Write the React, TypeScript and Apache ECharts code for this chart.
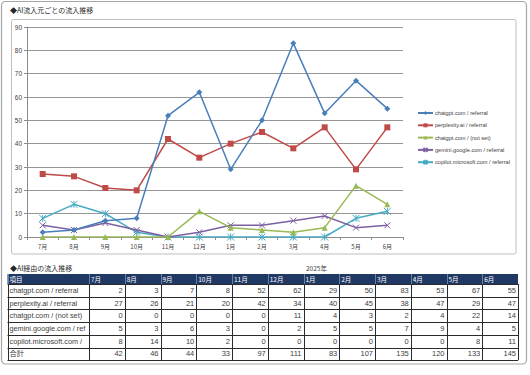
import React, { useEffect, useRef } from "react";
import * as echarts from "echarts";

const months = ["7月", "8月", "9月", "10月", "11月", "12月", "1月", "2月", "3月", "4月", "5月", "6月"];
const seriesNames = [
  "chatgpt.com / referral",
  "perplexity.ai / referral",
  "chatgpt.com / (not set)",
  "gemini.google.com / referral",
  "copilot.microsoft.com / referral",
];
const chatgptReferral = [2, 3, 7, 8, 52, 62, 29, 50, 83, 53, 67, 55];
const perplexityReferral = [27, 26, 21, 20, 42, 34, 40, 45, 38, 47, 29, 47];
const chatgptNotSet = [0, 0, 0, 0, 0, 11, 4, 3, 2, 4, 22, 14];
const geminiReferral = [5, 3, 6, 3, 0, 2, 5, 5, 7, 9, 4, 5];
const copilotReferral = [8, 14, 10, 2, 0, 0, 0, 0, 0, 0, 8, 11];
const totals = [42, 46, 44, 33, 97, 111, 83, 107, 135, 120, 133, 145];
const totalLabel = "合計";
const itemHeader = "項目";
const chartTitle = "◆AI流入元ごとの流入推移";
const tableTitle = "◆AI経由の流入推移";
const yearLabel = "2025年";

const seriesValues = [chatgptReferral, perplexityReferral, chatgptNotSet, geminiReferral, copilotReferral];
const colors = ["#4A7EBB", "#BE4B48", "#98B954", "#7D60A0", "#46AAC5"];
const symbols = [
  "diamond",
  "rect",
  "triangle",
  "path://M0,0L10,10M10,0L0,10",
  "path://M0,0L10,10M10,0L0,10M5,0L5,10",
];
const symbolSizes = [6, 6, 6, 6, 7];

const CJK = "'Noto Sans CJK JP', sans-serif";
const LAT = "'Liberation Sans', 'Noto Sans CJK JP', sans-serif";

function buildTable(): any[] {
  const els: any[] = [];
  const left = 7.5;
  const firstW = 81.5;
  const colW = 35.75;
  const headTop = 274;
  const headH = 10;
  const rowH = 12.7;
  const right = left + firstW + colW * months.length;
  const rows = [...seriesValues, totals];
  const rowLabels = [...seriesNames, totalLabel];
  const bottom = headTop + headH + rowH * rows.length;
  const lineColor = "#2b2b2b";

  els.push({
    type: "rect",
    shape: { x: left, y: headTop, width: right - left, height: headH },
    style: { fill: "#1F3864" },
  });
  els.push({
    type: "text",
    x: left + 2,
    y: headTop + headH / 2,
    style: { text: itemHeader, fill: "#ffffff", font: `6.5px ${CJK}`, verticalAlign: "middle" },
  });
  months.forEach((m, i) => {
    const cx = left + firstW + colW * i;
    els.push({
      type: "text",
      x: cx + 2,
      y: headTop + headH / 2,
      style: { text: m, fill: "#ffffff", font: `6.5px ${CJK}`, verticalAlign: "middle" },
    });
  });
  rows.forEach((vals, r) => {
    const y0 = headTop + headH + rowH * r;
    els.push({
      type: "text",
      x: left + 2,
      y: y0 + rowH / 2,
      style: {
        text: rowLabels[r],
        fill: "#404040",
        font: `7.3px ${LAT}`,
        verticalAlign: "middle",
        width: firstW - 3,
        overflow: "truncate",
        ellipsis: "",
      },
    });
    vals.forEach((v, i) => {
      const cx = left + firstW + colW * (i + 1);
      els.push({
        type: "text",
        x: cx - 2,
        y: y0 + rowH / 2,
        style: { text: String(v), fill: "#404040", font: `7.5px ${LAT}`, align: "right", verticalAlign: "middle" },
      });
    });
  });
  for (let r = 0; r <= rows.length; r++) {
    const y = Math.round(headTop + headH + rowH * r) + 0.5;
    els.push({
      type: "line",
      shape: { x1: left, y1: y, x2: right, y2: y },
      style: { stroke: lineColor, lineWidth: 1 },
    });
  }
  const xs = [left, left + firstW];
  for (let i = 1; i <= months.length; i++) xs.push(left + firstW + colW * i);
  xs.forEach((x) => {
    const xx = Math.round(x) + 0.5;
    els.push({
      type: "line",
      shape: { x1: xx, y1: headTop + headH, x2: xx, y2: bottom },
      style: { stroke: lineColor, lineWidth: 1 },
    });
    els.push({
      type: "line",
      shape: { x1: xx, y1: headTop, x2: xx, y2: headTop + headH },
      style: { stroke: "#ffffff", lineWidth: 0.6, opacity: 0.6 },
    });
  });
  return els;
}

export default function App() {
  const ref = useRef<HTMLDivElement>(null);
  useEffect(() => {
    if (!ref.current) return;
    const chart = echarts.init(ref.current, undefined, { renderer: "svg" });
    const option: any = {
      animation: false,
      backgroundColor: "#ffffff",
      textStyle: { fontFamily: CJK },
      grid: { left: 27, right: 127, top: 27, bottom: 138, containLabel: false },
      xAxis: {
        type: "category",
        data: months,
        boundaryGap: true,
        axisLine: { show: true, lineStyle: { color: "#8c8c8c", width: 1 } },
        axisTick: { show: true, interval: 0, length: 3, lineStyle: { color: "#8c8c8c" } },
        axisLabel: { color: "#404040", fontSize: 6, fontFamily: CJK, margin: 6, interval: 0 },
        splitLine: { show: false },
      },
      yAxis: {
        type: "value",
        min: 0,
        max: 90,
        interval: 10,
        axisLine: { show: true, lineStyle: { color: "#8c8c8c", width: 1 } },
        axisTick: { show: true, length: 3, lineStyle: { color: "#8c8c8c" } },
        axisLabel: { color: "#404040", fontSize: 6.5, fontFamily: LAT, margin: 5 },
        splitLine: { show: true, lineStyle: { color: "#969696", width: 1 } },
      },
      legend: {
        orient: "vertical",
        left: 412,
        top: 105,
        itemWidth: 15,
        itemHeight: 5,
        itemGap: 6.3,
        textStyle: { fontSize: 5.6, color: "#404040", fontFamily: LAT, lineHeight: 6, padding: [0, 0, 0, -3] },
        data: seriesNames,
      },
      series: seriesNames.map((name, i) => ({
        name,
        type: "line",
        data: seriesValues[i],
        symbol: symbols[i],
        symbolSize: symbolSizes[i],
        showAllSymbol: true,
        lineStyle: { color: colors[i], width: 1.5 },
        itemStyle: {
          color: colors[i],
          borderColor: colors[i],
          borderWidth: i >= 3 ? 1 : 0,
        },
        z: 10 - i,
      })),
      graphic: [
        {
          type: "rect",
          shape: { x: 1.5, y: 1.5, width: 525, height: 362.5, r: 4 },
          style: { fill: "none", stroke: "#a6a6a6", lineWidth: 1.2 },
          z: -10,
        },
        {
          type: "rect",
          shape: { x: 11.5, y: 19.5, width: 504.5, height: 234.5, r: 2 },
          style: { fill: "none", stroke: "#bfbfbf", lineWidth: 1 },
          z: -10,
        },
        {
          type: "text",
          x: 10,
          y: 10,
          style: { text: chartTitle, fill: "#262626", font: `7px ${CJK}`, verticalAlign: "middle" },
        },
        {
          type: "text",
          x: 10,
          y: 268,
          style: { text: tableTitle, fill: "#262626", font: `7px ${CJK}`, verticalAlign: "middle" },
        },
        {
          type: "text",
          x: 306,
          y: 268,
          style: { text: yearLabel, fill: "#404040", font: `6.5px ${CJK}`, verticalAlign: "middle" },
        },
        ...buildTable(),
      ],
    };
    chart.setOption(option);
    return () => chart.dispose();
  }, []);
  return <div ref={ref} style={{ position: "absolute", left: 0, top: 0, width: 530, height: 375 }} />;
}
